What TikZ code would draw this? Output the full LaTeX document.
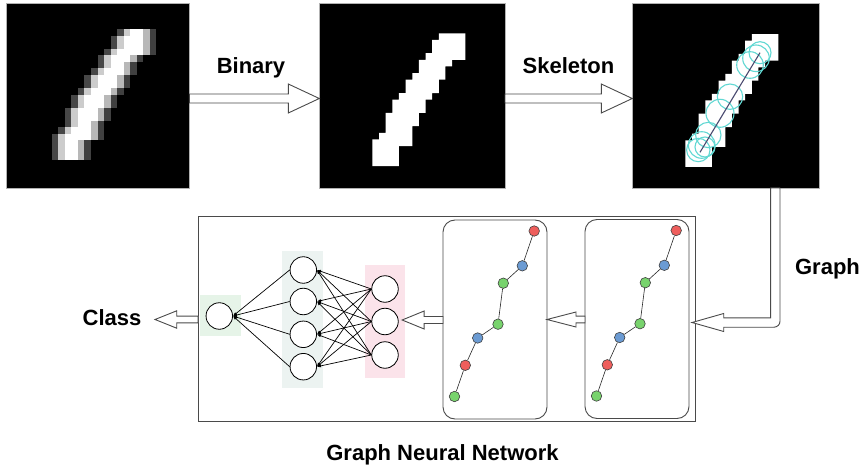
\documentclass[tikz,border=0pt]{standalone}
\usepackage{fontspec}
\setmainfont{Liberation Sans}
\usetikzlibrary{arrows.meta,calc}

\definecolor{frame}{HTML}{4A4A4A}
\definecolor{nred}{HTML}{EE5E5C}
\definecolor{nblue}{HTML}{6B9BD3}
\definecolor{ngreen}{HTML}{78D36D}
\definecolor{skelcyan}{HTML}{62D8D3}
\definecolor{skelline}{HTML}{4A4A70}
\definecolor{bggreen}{HTML}{E6F4E8}
\definecolor{bgblue}{HTML}{ECF3F1}
\definecolor{bgpink}{HTML}{FBE3EA}

\tikzset{
  lbl/.style={font=\bfseries\fontsize{22}{26}\selectfont, inner sep=0pt, anchor=base},
  imgbox/.style={fill=black, draw=gray!60, line width=0.7pt, inner sep=0pt, outer sep=0pt, anchor=north west},
  flex/.style={draw=frame, fill=white, line width=0.9pt, line join=miter},
  panel/.style={draw=frame, line width=0.9pt, inner sep=0pt, outer sep=0pt, anchor=north west},
  gnode/.style={circle, draw=black!75, line width=0.6pt, minimum size=10.5pt, inner sep=0pt},
  gedge/.style={draw=black!85, line width=0.6pt},
  neuron/.style={circle, draw=black, fill=white, line width=0.8pt, minimum size=26.5pt, inner sep=0pt},
  syn/.style={draw=black, line width=0.7pt, -{Latex[length=4pt,width=3.2pt]}},
  layerbg/.style={inner sep=0pt, outer sep=0pt, anchor=north west},
  skelring/.style={draw=skelcyan, line width=1.1pt},
  % thresholded stroke of the digit, one unit = one pixel
  onestroke/.pic={\fill[white] (18,4) -- (22,4) -- (22,8) -- (20,8) -- (20,9) -- (19,9)
    -- (19,11) -- (18,11) -- (18,13) -- (17,13) -- (17,14) -- (16,14) -- (16,16)
    -- (15,16) -- (15,18) -- (14,18) -- (14,21) -- (12,21) -- (12,24) -- (8,24)
    -- (8,20) -- (9,20) -- (9,19) -- (10,19) -- (10,16) -- (11,16) -- (11,14)
    -- (12,14) -- (12,13) -- (13,13) -- (13,11) -- (14,11) -- (14,10) -- (15,10)
    -- (15,8) -- (16,8) -- (16,7) -- (17,7) -- (17,5) -- (18,5) -- cycle;}
}

% hollow block arrow from #1 to the tip #2 (horizontal);
% #3 shaft half width, #4 head half width, #5 head length
\newcommand{\flexarrow}[5]{%
  \draw[flex] let \p1=(#1), \p2=(#2), \n1={ifthenelse(\x2>\x1,1,-1)} in
    (\x1,{\y2+#3pt}) -- ({\x2-\n1*#5pt},{\y2+#3pt}) -- ({\x2-\n1*#5pt},{\y2+#4pt})
    -- (\x2,\y2) -- ({\x2-\n1*#5pt},{\y2-#4pt}) -- ({\x2-\n1*#5pt},{\y2-#3pt})
    -- (\x1,{\y2-#3pt}) -- cycle;}

\begin{document}
\begin{tikzpicture}[x=1pt, y=-1pt]
\useasboundingbox (0,0) rectangle (868,468);

% ---------- the three image stages ----------
\node[imgbox, minimum width=183.3pt, minimum height=185pt] (img1) at (6,3) {};
\node[imgbox, minimum width=185.7pt, minimum height=185pt] (img2) at (319.3,3) {};
\node[imgbox, minimum width=187pt, minimum height=185pt] (img3) at (632.3,3) {};

% grayscale digit
\begin{scope}[shift={(img1.north west)}, x=6.54pt, y=-6.54pt]
  \foreach \r/\a/\b [evaluate=\a as \am using int(\a-1), evaluate=\b as \bm using int(\b-1)] in
    {4/18/22,5/17/22,6/17/22,7/16/22,8/15/20,9/15/19,10/14/19,11/13/18,12/13/18,
     13/12/17,14/11/16,15/11/16,16/10/15,17/10/15,18/10/14,19/9/14,20/8/14,
     21/8/12,22/8/12,23/8/12}
  {
    \fill[white!28!black] (\am,\r) rectangle ++(1,1);
    \fill[white!80!black] (\a,\r) rectangle ++(1,1);
    \fill[white] (\a+1,\r) rectangle (\bm,\r+1);
    \fill[white!72!black] (\bm,\r) rectangle ++(1,1);
    \fill[white!25!black] (\b,\r) rectangle ++(1,1);
  }
\end{scope}

% binary digit
\begin{scope}[shift={(img2.north west)}, yshift=-3.7pt, x=6.64pt, y=-6.64pt]
  \pic at (0,0) {onestroke};
\end{scope}

% binary digit with its skeleton and medial-axis rings
\begin{scope}[shift={(img3.north west)}, yshift=-4.5pt, x=6.64pt, y=-6.64pt]
  \pic at (0,0) {onestroke};
\end{scope}
\begin{scope}[shift={(img3.north west)}]
  \foreach \cx/\cy/\rr in {127.7/49.7/11, 123.7/55.3/13.3, 117.7/62/13.3,
                           97.7/93.7/12.7, 87.7/110.3/14,
                           76/132/12.7, 69.4/142/13.3, 66/147/11.7, 72.7/144/10}
    \draw[skelring] (\cx,\cy) circle[radius=\rr pt];
  \draw[skelline, line width=1.1pt] (127.7,49.7) -- (67.7,149.3);
\end{scope}

% ---------- stage arrows ----------
\node[lbl] (lbin) at (251,74) {Binary};
\node[lbl] (lskel) at (568.5,74) {Skeleton};
\flexarrow{img1.east}{$(img2.west)+(0,3)$}{4.5}{14.5}{31}
\flexarrow{img2.east}{$(img3.west)+(0,3)$}{4.5}{14.5}{31}

% ---------- graph neural network block ----------
\node[panel, minimum width=497pt, minimum height=205pt] (gnn) at (198,216.5) {};
\node[panel, rounded corners=12pt, minimum width=104pt, minimum height=199pt] (boxA) at (443,220) {};
\node[panel, rounded corners=12pt, minimum width=104pt, minimum height=199pt] (boxB) at (585,219.5) {};

% graphs built from the skeleton
\foreach \bx in {A,B} {
  \begin{scope}[shift={(box\bx.north west)}]
    \foreach \i/\px/\py/\c in {1/91.2/11/nred, 2/79.3/45.8/nblue, 3/60.3/63.2/ngreen,
                               4/55/104.2/ngreen, 5/34.7/118/nblue, 6/22.3/145.3/nred,
                               7/11.5/176.5/ngreen}
      \node[gnode, fill=\c] (\bx\i) at (\px,\py) {};
  \end{scope}
  \foreach \i/\j in {1/2,2/3,3/4,4/5,5/6,6/7}
    \draw[gedge] (\bx\i) -- (\bx\j);
}

% layer backgrounds
\node[layerbg, fill=bggreen, minimum width=40.7pt, minimum height=41pt] (bgout) at (200,295) {};
\node[layerbg, fill=bgblue, minimum width=40.4pt, minimum height=137.3pt] (bghid) at (282.3,251) {};
\node[layerbg, fill=bgpink, minimum width=40pt, minimum height=113.3pt] (bgin) at (365,265) {};

% neurons
\node[neuron] (o) at (219.3,316) {};
\node[neuron] (h1) at (303.3,270) {};
\node[neuron] (h2) at (303.3,301.5) {};
\node[neuron] (h3) at (303.3,334.3) {};
\node[neuron] (h4) at (303.3,366.7) {};
\node[neuron] (r1) at (385,289) {};
\node[neuron] (r2) at (385,321.5) {};
\node[neuron] (r3) at (385,355) {};

\foreach \i in {1,2,3}
  \foreach \j in {1,2,3,4}
    \draw[syn] (r\i.west) -- (h\j.east);
\foreach \j in {1,2,3,4}
  \draw[syn] (h\j.west) -- (o.east);

% arrows inside the block
\flexarrow{boxB.west}{boxA.east}{3.4}{7.5}{29}
\flexarrow{boxA.west}{$(r2.east)+(3.5,-1.5)$}{3.5}{9}{22}

% skeleton image to graph
\node[lbl] (lgraph) at (827.5,274) {Graph};
\draw[flex] let \p1=($(img3.south east)+(-44,0)$), \p2=($(gnn.east)+(-3,3.5)$) in
  ({\x1-4.7pt},\y1) -- ({\x1-4.7pt},{\y2+4.7pt}) -- ({\x2+31.7pt},{\y2+4.7pt})
  -- ({\x2+31.7pt},{\y2+9pt}) -- (\x2,\y2) -- ({\x2+31.7pt},{\y2-9pt})
  -- ({\x2+31.7pt},{\y2-4.7pt}) -- ({\x1+4.7pt-6pt},{\y2-4.7pt})
  arc[start angle=270, end angle=360, radius=6pt] -- ({\x1+4.7pt},\y1) -- cycle;

% output
\node[lbl] (cls) at (112,325) {Class};
\coordinate (ctip) at (155,319.5);
\flexarrow{gnn.west}{ctip}{3.4}{8.7}{21.7}

\node[lbl] (lgnn) at (442.5,460) {Graph Neural Network};
\end{tikzpicture}
\end{document}
